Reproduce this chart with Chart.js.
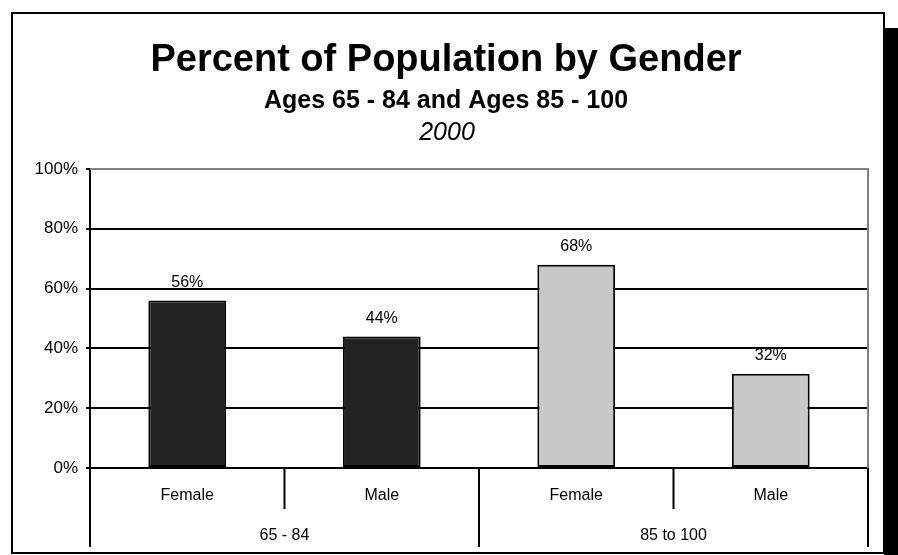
<!DOCTYPE html>
<html lang="en">
<head>
  <meta charset="UTF-8"/>
  <title>Percent of Population by Gender</title>
  <script src="https://cdn.jsdelivr.net/npm/chart.js"></script>
  <style>
    html, body { margin: 0; padding: 0; background: #fff; }
    canvas { display: block; }
  </style>
</head>
<body>
<canvas id="genderChart" width="898" height="555"></canvas>

<script>
  // data
  const categories = ['Female', 'Male', 'Female', 'Male'];
  const groups = ['65 - 84', '85 to 100'];
  const groupSize = 2;
  const percents = [56, 44, 68, 31.5];
  const tickValues = [0, 20, 40, 60, 80, 100];

  const FONT = '"Liberation Sans", Arial, sans-serif';

  // frame, shadow, headings, group labels and dividers
  const decorations = {
    id: 'decorations',
    beforeDraw(chart) {
      const ctx = chart.ctx;
      ctx.save();
      ctx.fillStyle = '#000';
      ctx.fillRect(884, 28, 14, 527);
      ctx.fillStyle = '#fff';
      ctx.fillRect(12, 13, 872, 540);
      ctx.strokeStyle = '#000';
      ctx.lineWidth = 2;
      ctx.strokeRect(12, 13, 872, 540);

      ctx.fillStyle = '#000';
      ctx.textAlign = 'center';
      ctx.textBaseline = 'middle';
      ctx.font = 'bold 38px ' + FONT;
      ctx.fillText('Percent of Population by Gender', 446, 61);
      ctx.font = 'bold 25px ' + FONT;
      ctx.fillText('Ages 65 - 84 and Ages 85 - 100', 446, 101);
      ctx.font = 'italic 25px ' + FONT;
      ctx.fillText('2000', 447, 133);
      ctx.restore();
    },
    afterDraw(chart) {
      const ctx = chart.ctx;
      const area = chart.chartArea;
      const x = chart.scales.x;
      const half = (x.getPixelForValue(1) - x.getPixelForValue(0)) / 2;
      ctx.save();

      // grey top and right border of the plot
      ctx.strokeStyle = '#808080';
      ctx.lineWidth = 2;
      ctx.beginPath();
      ctx.moveTo(area.left, area.top);
      ctx.lineTo(area.right, area.top);
      ctx.lineTo(area.right, area.bottom);
      ctx.stroke();

      // category dividers under the axis
      ctx.strokeStyle = '#000';
      ctx.beginPath();
      for (let i = 0; i <= categories.length; i++) {
        const px = i === 0 ? area.left : i === categories.length ? area.right : x.getPixelForValue(i) - half;
        const bottom = i % groupSize === 0 ? 547 : 509;
        ctx.moveTo(px, area.bottom);
        ctx.lineTo(px, bottom);
      }
      ctx.stroke();

      ctx.fillStyle = '#000';
      ctx.font = '16px ' + FONT;
      ctx.textAlign = 'center';
      ctx.textBaseline = 'middle';
      groups.forEach((g, gi) => {
        const a = x.getPixelForValue(gi * groupSize) - half;
        const b = x.getPixelForValue(gi * groupSize + groupSize - 1) + half;
        ctx.fillText(g, (a + b) / 2, 536);
      });
      ctx.restore();
    },
    afterDatasetsDraw(chart) {
      const ctx = chart.ctx;
      const meta = chart.getDatasetMeta(0);
      ctx.save();
      ctx.fillStyle = '#000';
      ctx.font = '16px ' + FONT;
      ctx.textAlign = 'center';
      ctx.textBaseline = 'middle';
      meta.data.forEach((bar, i) => {
        ctx.fillText(Math.round(percents[i]) + '%', bar.x, bar.y - 18);
      });
      ctx.restore();
    }
  };

  new Chart(document.getElementById('genderChart'), {
    type: 'bar',
    data: {
      labels: categories,
      datasets: [{
        data: percents,
        backgroundColor: ['#222222', '#222222', '#c8c8c8', '#c8c8c8'],
        borderColor: '#000',
        borderWidth: 2,
        borderSkipped: false,
        barPercentage: 0.4,
        categoryPercentage: 1
      }]
    },
    options: {
      responsive: false,
      animation: false,
      layout: { padding: { top: 169, right: 30, bottom: 0, left: 0 } },
      plugins: {
        legend: { display: false },
        tooltip: { enabled: false }
      },
      scales: {
        x: {
          grid: { display: false },
          border: { display: false },
          ticks: { color: '#000', font: { family: FONT, size: 16 }, padding: 10, maxRotation: 0 },
          afterFit(scale) { scale.height = 87; }
        },
        y: {
          min: 0,
          max: 100,
          afterBuildTicks(scale) { scale.ticks = tickValues.map(v => ({ value: v })); },
          ticks: {
            color: '#000',
            font: { family: FONT, size: 17 },
            padding: 8,
            callback: v => v + '%'
          },
          grid: {
            color: ctx => ctx.tick && ctx.tick.value === 100 ? '#808080' : '#000',
            tickColor: '#000',
            lineWidth: 2,
            tickLength: 4
          },
          border: { color: '#000', width: 2 },
          afterFit(scale) { scale.width = 90; }
        }
      }
    },
    plugins: [decorations]
  });
</script>
</body>
</html>
